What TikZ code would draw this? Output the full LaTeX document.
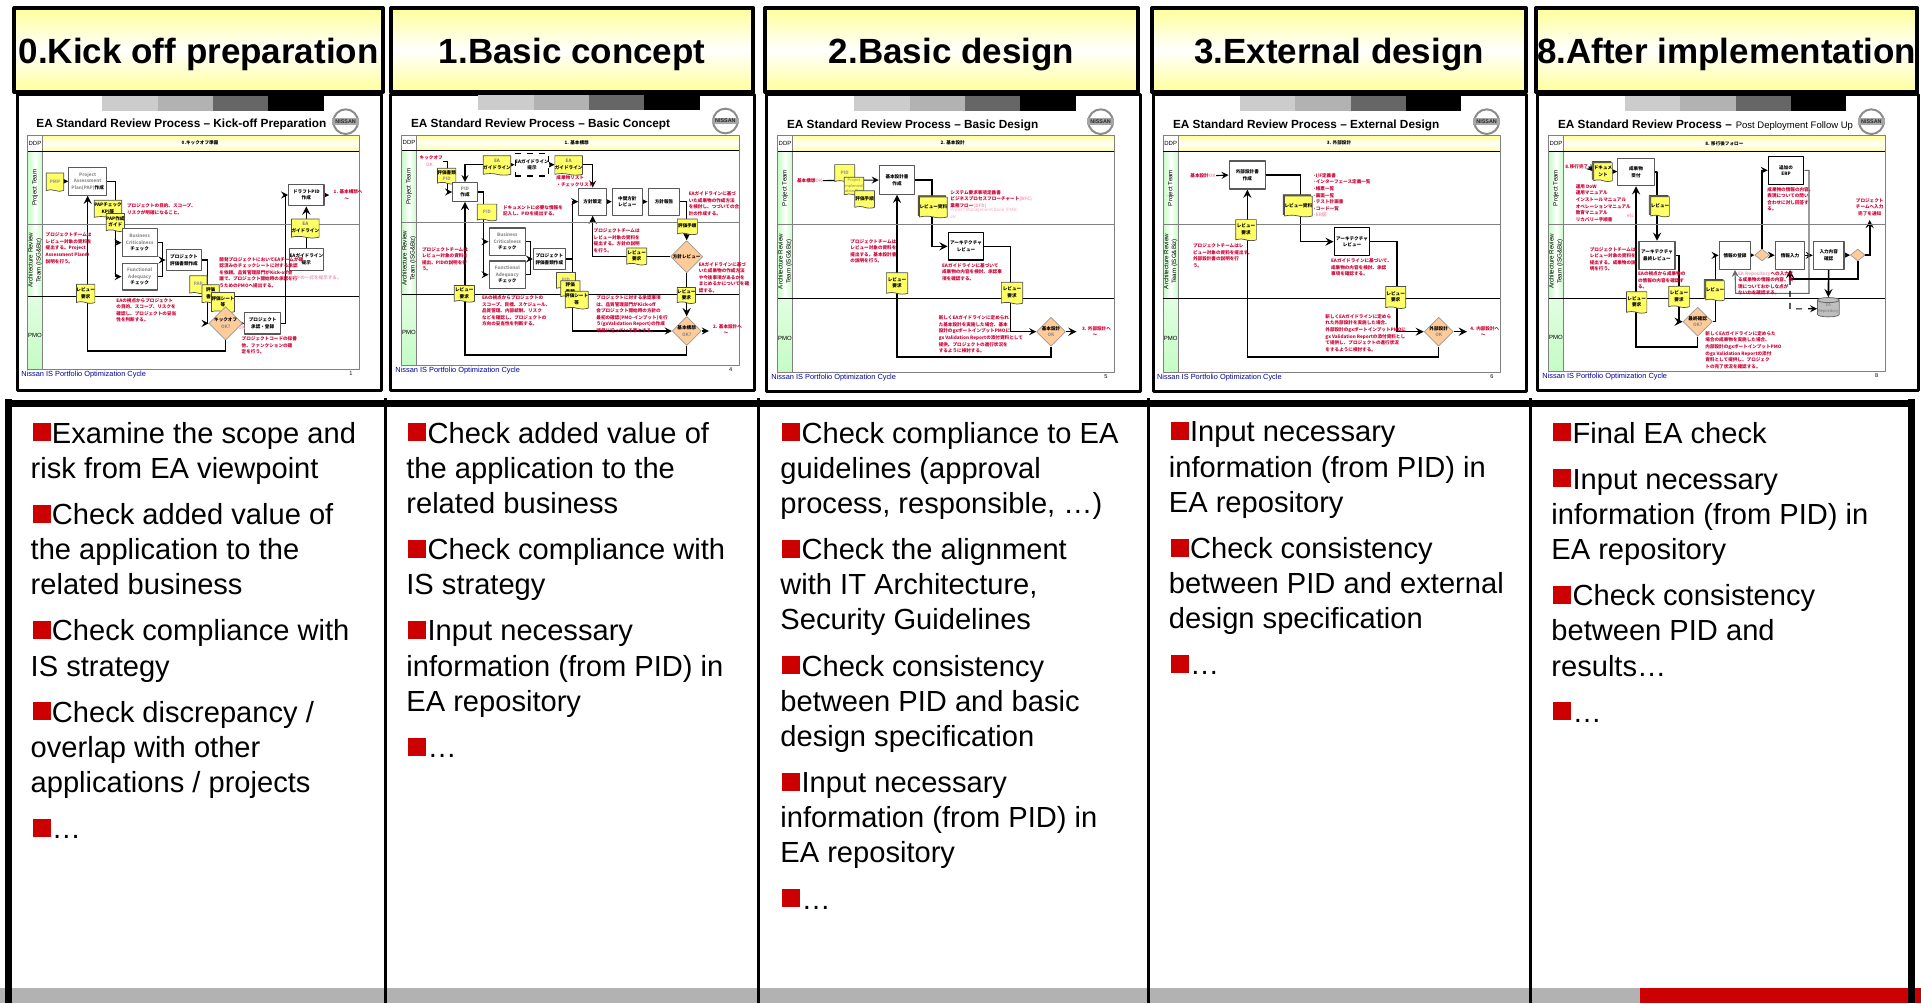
\documentclass[tikz,border=0pt]{standalone}
\usepackage{fontspec}
\setmainfont{Liberation Sans}
\newfontfamily\jpf{Noto Sans CJK JP}
\usetikzlibrary{shapes.geometric,shapes.symbols,shadows,backgrounds}
\definecolor{hdyellow}{HTML}{FFFF99}
\definecolor{lanegreen}{HTML}{C4FCC4}
\definecolor{bulletred}{HTML}{CC0000}
\definecolor{notered}{HTML}{CC0033}
\definecolor{notepink}{HTML}{F2A6BC}
\definecolor{docyellow}{HTML}{FFFF66}
\definecolor{diamfill}{HTML}{FFCC99}
\definecolor{footblue}{HTML}{000099}
\def\cu{0.16667pt}
\newcommand{\lblf}{\jpf\bfseries\fontsize{2.3}{3.3}\selectfont}
\newcommand{\ttlf}{\bfseries\fontsize{5.9}{7}\selectfont}
\newcommand{\sqb}{\kern1pt\textcolor{bulletred}{\raisebox{.85pt}{\rule{9pt}{9pt}}}\kern.6pt}
\tikzset{
	sz/.style 2 args={minimum width=#1*\cu,minimum height=#2*\cu},
	hdbox/.style={draw=black,line width=2pt,top color=hdyellow,bottom color=hdyellow,middle color=white,minimum height=42pt,inner sep=0pt,font=\bfseries\fontsize{17.5}{20}\selectfont,text height=13.5pt,text depth=0pt},
	bodytext/.style={anchor=north west,inner sep=0pt,align=left,font=\fontsize{14.55}{17.6}\selectfont},
	procbox/.style={draw=black!65,line width=.6pt,fill=white,inner sep=0pt,align=center,font=\lblf},
	palebox/.style={procbox,text=black!45},
	docnote/.style={shape=tape,tape bend top=none,tape bend bottom=out and in,tape bend height=.8pt,draw=black!70,line width=.35pt,fill=docyellow,sz={58}{52},inner sep=0pt,align=center,font=\lblf},
	stackdoc/.style={docnote,copy shadow={shadow xshift=-.7pt,shadow yshift=.7pt,fill=black!60!docyellow,draw=black!70}},
	decide/.style={diamond,draw=black!40,line width=.35pt,fill=diamfill,sz={85}{68},inner sep=0pt,align=center,font=\lblf},
	redline/.style={inner sep=0pt,anchor=north west,align=left,text=notered,font=\lblf},
	pinkline/.style={redline,text=notepink},
	flow/.style={->,line width=.55pt},
	heavy/.style={line width=.8pt},
	wire/.style={line width=.55pt},
}
% frame of one small slide: prefix, table x1 y1 x2 y2, lane lines, stripe start, page
\newcommand{\reviewbase}[9]{
	\fill[black!20] (#8,{#3-119}) rectangle ({#8+167},{#3-74});
	\fill[black!30] ({#8+167},{#3-119}) rectangle ({#8+333},{#3-74});
	\fill[black!60] ({#8+333},{#3-119}) rectangle ({#8+498},{#3-74});
	\fill[black] ({#8+498},{#3-119}) rectangle ({#8+665},{#3-74});
	\draw[black!45,line width=1pt,fill=white] ({#4-41},{#3-42}) circle (37);
	\fill[black!35] ({#4-81},{#3-52}) rectangle ({#4-1},{#3-32});
	\node[inner sep=0pt,text=black!85,font=\bfseries\fontsize{2.7}{3}\selectfont] (#1logo) at ({#4-41},{#3-42}) {NISSAN};
	\shade[top color=hdyellow,bottom color=hdyellow,middle color=white] ({#2+45},#3) rectangle (#4,{#3+47});
	\shade[left color=lanegreen,right color=lanegreen,middle color=white] (#2,{#3+47}) rectangle ({#2+45},#7);
	\shade[top color=lanegreen!50,bottom color=lanegreen] (#2,#7) rectangle ({#2+45},#5);
	\draw[black!50,line width=.5pt] (#2,#3) rectangle (#4,#5) ({#2+45},#3) -- ({#2+45},#5) (#2,#6) -- (#4,#6);
	\draw[black,line width=.35pt] (#2,{#3+47}) -- (#4,{#3+47}) (#2,#7) -- (#4,#7);
	\node[inner sep=0pt,font=\fontsize{3}{3.5}\selectfont] (#1ddp) at ({#2+22},{#3+23}) {DDP};
	\node[inner sep=0pt,rotate=90,font=\fontsize{3.1}{3.6}\selectfont] (#1lane) at ({#2+22},{(#3+47+#6)/2}) {Project Team};
	\node[inner sep=0pt,rotate=90,align=center,font=\fontsize{3.1}{3.9}\selectfont] (#1arch) at ({#2+22},{(#6+#7)/2}) {Architecture Review\\Team (ISG\&Biz)};
	\node[inner sep=0pt,font=\fontsize{3}{3.5}\selectfont] (#1pmo) at ({#2+22},{(#7+#5)/2+8}) {PMO};
	\node[inner sep=0pt,anchor=base west,text=footblue,font=\fontsize{3.7}{4}\selectfont] (#1foot) at ({#2-20},{#5+21}) {Nissan IS Portfolio Optimization Cycle};
	\node[inner sep=0pt,font=\fontsize{2.8}{3}\selectfont] (#1page) at ({#4-25},{#5+13}) {#9};
}
\begin{document}
\begin{tikzpicture}[x=0.5pt,y=-0.5pt,>=stealth,line join=round]
	\useasboundingbox (0,0) rectangle (1921,1003);
	% bottom bar and frame of the lists
	\fill[black!30] (0,988) rectangle (1640,1003);
	\fill[bulletred] (1640,988) rectangle (1921,1003);
	\fill (5,400) rectangle (1915,407);
	\fill (5,399) rectangle (12,1003);
	\fill (1908,399) rectangle (1915,1003);
	\foreach \sx in {384,757,1147,1529}{\fill (\sx,398) rectangle (\sx+3.3,1003);}
	% titles of the phases
	\draw[line width=1.5pt] (17,94.5) rectangle (381,390) (390.5,94.5) rectangle (754.5,390) (766.5,94.5) rectangle (1140.5,391) (1153,94.5) rectangle (1526.5,391) (1537.5,94.5) rectangle (1918,390);
	\node[hdbox,minimum width=184.25pt] (hd0) at (198.7,50) {0.Kick off preparation};
	\node[hdbox,minimum width=181.25pt] (hd1) at (572.2,50) {1.Basic concept};
	\node[hdbox,minimum width=186.5pt] (hd2) at (951.5,50) {2.Basic design};
	\node[hdbox,minimum width=187pt] (hd3) at (1339,50) {3.External design};
	\node[hdbox,minimum width=190.75pt] (hd4) at (1726.7,50) {8.After implementation};
	% lists
	\node[bodytext] (body0) at (30.3,421.5) {\sqb Examine the scope and\\risk from EA viewpoint\\[5.45pt]\sqb Check added value of\\the application to the\\related business\\[5.45pt]\sqb Check compliance with\\IS strategy\\[5.45pt]\sqb Check discrepancy /\\overlap with other\\applications / projects\\[5.45pt]\sqb …};
	\node[bodytext] (body1) at (406,421.5) {\sqb Check added value of\\the application to the\\related business\\[5.45pt]\sqb Check compliance with\\IS strategy\\[5.45pt]\sqb Input necessary\\information (from PID) in\\EA repository\\[5.45pt]\sqb …};
	\node[bodytext] (body2) at (780,421.5) {\sqb Check compliance to EA\\guidelines (approval\\process, responsible, …)\\[5.45pt]\sqb Check the alignment\\with IT Architecture,\\Security Guidelines\\[5.45pt]\sqb Check consistency\\between PID and basic\\design specification\\[5.45pt]\sqb Input necessary\\information (from PID) in\\EA repository\\[5.45pt]\sqb …};
	\node[bodytext] (body3) at (1168.5,421.5) {\sqb Input necessary\\information (from PID) in\\EA repository\\[5.45pt]\sqb Check consistency\\between PID and external\\design specification\\[5.45pt]\sqb …};
	\node[bodytext] (body4) at (1551,421.5) {\sqb Final EA check\\[5.45pt]\sqb Input necessary\\information (from PID) in\\EA repository\\[5.45pt]\sqb Check consistency\\between PID and\\results…\\[5.45pt]\sqb …};
	% slide 0
	\begin{scope}[shift={(0,0)},x=\cu,y=-\cu]
	\reviewbase{s0}{83}{407}{1078}{1108}{672}{889}{307}{1}
	\node[inner sep=0pt,anchor=base west,font=\ttlf] (s0t) at (108,383) {EA Standard Review Process – Kick-off Preparation};
	\node[inner sep=0pt,font=\lblf] (s0h1) at (600,428) {0.キックオフ準備};
	\node[docnote,text=black!40,sz={52}{55}] (s0d1) at (165,544) {PMP};
	\node[palebox,sz={113}{83}] (s0a) at (263,544) {Project\\Assessment\\Plan(PAP)\textcolor{black}{作成}};
	\node[docnote,sz={52}{54}] (s0d2) at (324,625) {PAPチェック\\KPI等};
	\node[docnote,sz={52}{54}] (s0d3) at (346,665) {PAP作成\\ガイド};
	\node[palebox,sz={105}{84}] (s0b) at (419,728) {Business\\Criticalness\\\textcolor{black}{チェック}};
	\node[palebox,sz={105}{80}] (s0c) at (419,830) {Functional\\Adequacy\\\textcolor{black}{チェック}};
	\node[procbox,sz={107}{63}] (s0d) at (552,780) {プロジェクト\\評価書類作成};
	\node[docnote,text=black!40,sz={52}{55}] (s0d4) at (595,852) {PAP};
	\node[docnote,sz={52}{56}] (s0d5) at (632,880) {評価\\書類};
	\node[docnote,sz={52}{60}] (s0d6) at (669,905) {評価シート\\等};
	\node[docnote,sz={52}{57}] (s0d7) at (257,879) {レビュー\\要求};
	\node[decide,sz={81}{66}] (s0e) at (677,970) {キックオフ\\\textcolor{black!45}{OK?}};
	\node[procbox,sz={107}{64}] (s0f) at (788,970) {プロジェクト\\承認・登録};
	\node[procbox,sz={106}{65}] (s0g) at (919,585) {ドラフトPID\\作成};
	\node[docnote,sz={62}{57}] (s0d8) at (916,683) {\textcolor{black!50}{EA}\\ガイドライン};
	\node[procbox,sz={93}{67}] (s0i) at (919,778) {EAガイドライン\\提示};
	\node[redline] (s0n1) at (380,610) {プロジェクトの目的、スコープ、\\リスクが明確になること。};
	\node[redline] (s0n2) at (136,697) {プロジェクトチームは\\レビュー対象の資料を\\提出する。Project\\Assessment Planの\\説明を行う。};
	\node[redline] (s0n3) at (657,770) {開発プロジェクトにおいてEAチームが確\\認済みのチェックシートに対する承認\\を依頼。品質管理部門がKick-off会\\議で、プロジェクト開始時の承認を行\\うためのPMOへ提出する。};
	\node[redline] (s0n4) at (348,893) {EAの視点からプロジェクト\\の目的、スコープ、リスクを\\確認し、プロジェクトの妥当\\性を判断する。};
	\node[redline] (s0n5) at (724,1008) {プロジェクトコードの採番\\他、ファンクションの確\\定を行う。};
	\node[pinkline] (s0n6) at (870,826) {DDPの一式を提示する。};
	\node[redline,font=\lblf] (s0n7) at (1000,568) {1. 基本構想へ\\\ \ ~~~~~~~~〜};
	\node[pinkline,font=\lblf] (s0ok) at (714,977) {OK};
	\begin{scope}[on background layer]
	\draw[flow] (s0d1) -- (s0a);
	\draw[flow] (s0a.east) -- ++(24,0) |- (s0b.west);
	\draw[flow] (s0a.east) -- ++(24,0) |- (s0c.west);
	\draw[wire] (s0b.east) -- ++(14,0) |- (s0c.east);
	\draw[flow] (s0b.east) -- ++(14,0) |- (s0d.west);
	\draw[flow] (s0d.east) -- ++(14,0) |- (s0e.west);
	\draw[flow] (s0e) -- (s0f);
	\draw[flow,heavy] (s0e.south) -- ++(0,32) -| (s0a.south);
	\draw[flow] (s0f.east) -- ++(13,0) |- (s0g.west);
	\draw[flow] (s0g.east) -- ++(14,0);
	\draw[flow,heavy] (s0i) -- (s0g);
	\end{scope}
	\end{scope}
	% slide 1
	\begin{scope}[shift={(380,80)},x=\cu,y=-\cu]
	\reviewbase{s1}{65}{165}{1077}{857}{427}{642}{295}{4}
	\node[inner sep=0pt,anchor=base west,font=\ttlf] (s1t) at (92,142) {EA Standard Review Process – Basic Concept};
	\node[inner sep=0pt,font=\lblf] (s1h1) at (590,187) {1. 基本構想};
	\node[redline] (s1n0) at (118,227) {キックオフ\\\textcolor{notepink}{\ \ ~~~~OK}};
	\node[docnote,sz={54}{47}] (s1d1) at (200,286) {評価書類\\\textcolor{black!40}{PID}};
	\node[procbox,sz={74}{56}] (s1a) at (255,336) {\textcolor{black!45}{PID}\\作成};
	\node[docnote,sz={63}{58}] (s1d2) at (351,254) {\textcolor{black!50}{EA}\\ガイドライン};
	\node[procbox,dashed,draw=black,line width=.7pt,sz={97}{68}] (s1b) at (456,254) {EAガイドライン\\提示};
	\node[docnote,sz={64}{58}] (s1d3) at (566,254) {\textcolor{black!50}{EA}\\ガイドライン};
	\node[redline] (s1n1) at (528,286) {成果物リスト\\・チェックリスト};
	\node[docnote,text=black!40,sz={58}{50}] (s1d4) at (321,395) {PID};
	\node[redline] (s1n2) at (368,375) {ドキュメントに必要な情報を\\記入し、PIDを提出する。};
	\node[procbox,sz={83}{81}] (s1c) at (638,365) {方針策定};
	\node[procbox,sz={90}{81}] (s1e) at (742,365) {中間方針\\レビュー};
	\node[procbox,sz={95}{81}] (s1f) at (852,365) {方針報告};
	\node[redline] (s1n3) at (925,334) {EAガイドラインに基づ\\いた成果物の作成方法\\を検討し、つづいての合\\計の作成する。};
	\node[docnote,sz={60}{47}] (s1d5) at (922,438) {評価手順};
	\node[decide] (s1g) at (920,530) {方針レビュー};
	\node[docnote,sz={60}{51}] (s1d6) at (770,527) {レビュー\\要求};
	\node[redline] (s1n4) at (640,445) {プロジェクトチームは\\レビュー対象の資料を\\提出する。方針の説明\\を行う。};
	\node[redline] (s1n5) at (125,500) {プロジェクトチームは\\レビュー対象の資料を\\提出、PIDの説明を行\\う。};
	\node[palebox,sz={109}{82}] (s1h) at (382,485) {Business\\Criticalness\\\textcolor{black}{チェック}};
	\node[palebox,sz={109}{82}] (s1i) at (382,584) {Functional\\Adequacy\\\textcolor{black}{チェック}};
	\node[procbox,sz={95}{62}] (s1j) at (508,537) {プロジェクト\\評価書類作成};
	\node[docnote,text=black!40,sz={57}{50}] (s1d7) at (558,600) {PID};
	\node[docnote,sz={58}{50}] (s1d8) at (571,625) {評価\\書類};
	\node[docnote,sz={58}{53}] (s1d9) at (590,658) {評価シート\\等};
	\node[docnote,sz={61}{50}] (s1d10) at (253,639) {レビュー\\要求};
	\node[redline] (s1n6) at (305,645) {EAの視点からプロジェクトの\\スコープ、目標、スケジュール、\\品質管理、内部統制、リスク\\などを確認し、プロジェクトの\\方向の妥当性を判断する。};
	\node[redline] (s1n7) at (648,645) {プロジェクトに対する承認事項\\は、品質管理部門がKick-off\\会プロジェクト開始時の方針の\\最初の確認(PMO-インプット)を行\\う(gxValidation Report)の作成\\項目に沿っている事とする。};
	\node[docnote,sz={52}{48}] (s1d11) at (919,644) {レビュー\\要求};
	\node[redline] (s1n8) at (955,545) {EAガイドラインに基づ\\いた成果物の作成方法\\や今後事項があるかを\\まとめるかについてを確\\認する。};
	\node[decide,sz={85}{66}] (s1k) at (920,753) {基本構想\\\textcolor{black!45}{OK?}};
	\node[redline] (s1n9) at (998,732) {2. 基本設計へ\\\ \ ~~~~~~~~〜};
	\begin{scope}[on background layer]
	\draw[flow] (s1n0.east) -- ++(12,0) |- (s1a.west);
	\draw[flow] (s1d2.west) -| (s1a.north);
	\draw[flow] (s1d2) -- (s1b);
	\draw[flow] (s1b) -- (s1d3);
	\draw[flow] (s1d3.east) -| (s1c.north);
	\draw[flow] (s1a.east) -- ++(18,0) |- (s1h.west);
	\draw[flow] (s1a.east) -- ++(18,0) |- (s1i.west);
	\draw[wire] (s1h.east) -- ++(13,0) |- (s1i.east);
	\draw[flow] (s1h.east) -- ++(13,0) |- (s1j.west);
	\draw[flow] (s1j.east) -- ++(19,0) |- (s1c.west);
	\draw[flow] (s1j.east) -- ++(19,0) |- (s1k.west);
	\draw[flow] (s1c) -- (s1e);
	\draw[flow] (s1e) -- (s1f);
	\draw[flow,heavy] (s1f.east) -- ++(20,0) -| (s1g.north);
	\draw[flow,heavy] (s1g.west) -| (s1c.south);
	\draw[flow,heavy] (s1g) -- (s1k);
	\draw[flow] (s1k.east) -- ++(22,0);
	\draw[flow,heavy] (s1k.south) -- ++(0,28) -| (s1a.south);
	\end{scope}
	\end{scope}
	% slide 2
	\begin{scope}[shift={(760,80)},x=\cu,y=-\cu]
	\reviewbase{s2}{53}{167}{1063}{877}{434}{655}{282}{5}
	\node[inner sep=0pt,anchor=base west,font=\ttlf] (s2t) at (80,145) {EA Standard Review Process – Basic Design};
	\node[inner sep=0pt,font=\lblf] (s2h1) at (578,189) {2. 基本設計};
	\node[redline] (s2n0) at (110,294) {基本構想\textcolor{notepink}{OK}};
	\node[docnote,text=black!40,sz={60}{53}] (s2d1) at (254,278) {PID};
	\node[docnote,text=black!50,sz={58}{55},font=\jpf\fontsize{1.9}{2.7}\selectfont] (s2d2) at (282,317) {Project\\Implement\\ation Plan};
	\node[docnote,sz={59}{52}] (s2d3) at (314,356) {評価手順};
	\node[procbox,sz={106}{85}] (s2a) at (411,300) {基本設計書\\作成};
	\node[stackdoc,sz={60}{62}] (s2d4) at (520,380) {レビュー資料};
	\node[redline] (s2n1) at (570,330) {システム要求事項定義書\\ビジネスプロセスフローチャート\textcolor{notepink}{(BFC)}\\業務フロー\textcolor{notepink}{(DFD)}};
	\node[pinkline,font=\jpf\fontsize{2.2}{3.3}\selectfont] (s2n2) at (570,383) {Project Management Book (PMB)\\etc};
	\node[procbox,draw=black,sz={107}{82}] (s2b) at (618,499) {アーキテクチャ\\レビュー};
	\node[redline] (s2n3) at (545,548) {EAガイドラインに基づいて\\成果物の内容を検討、承認事\\項を確認する。};
	\node[docnote,sz={64}{64}] (s2d5) at (411,608) {レビュー\\要求};
	\node[redline] (s2n4) at (270,476) {プロジェクトチームは\\レビュー対象の資料を\\提出する。基本設計書\\の説明を行う。};
	\node[docnote,sz={64}{65}] (s2d6) at (756,637) {レビュー\\要求};
	\node[decide,sz={85}{70}] (s2c) at (873,755) {基本設計\\\textcolor{black!45}{OK}};
	\node[redline] (s2n5) at (535,706) {新しくEAガイドラインに定められ\\た基本設計を実施した場合、基本\\設計のgxポートインプットPMOに\\gx Validation Reportの添付資料として\\提供。プロジェクトの進行状況を\\するように検討する。};
	\node[redline] (s2n6) at (965,738) {3. 外部設計へ\\\ \ ~~~~~~~~〜};
	\begin{scope}[on background layer]
	\draw[flow] (s2n0.east) -- (s2a.west);
	\draw[flow,heavy] (s2a.east) -- ++(51,0) |- (s2b.west);
	\draw[flow] (s2b.east) -- ++(78,0) |- (s2c.west);
	\draw[flow,heavy] (s2c.east) -- ++(32,0);
	\draw[flow,heavy] (s2c.south) -- ++(0,32) -| (s2a.south);
	\end{scope}
	\end{scope}
	% slide 3
	\begin{scope}[shift={(1140,80)},x=\cu,y=-\cu]
	\reviewbase{s3}{70}{167}{1081}{877}{434}{655}{299}{6}
	\node[inner sep=0pt,anchor=base west,font=\ttlf] (s3t) at (98,145) {EA Standard Review Process – External Design};
	\node[inner sep=0pt,font=\lblf] (s3h1) at (597,189) {3. 外部設計};
	\node[redline] (s3n0) at (150,279) {基本設計\textcolor{notepink}{OK}};
	\node[procbox,sz={109}{84}] (s3a) at (322,285) {外部設計書\\作成};
	\node[stackdoc,sz={60}{62}] (s3d1) at (475,377) {レビュー資料};
	\node[redline] (s3n1) at (518,279) {·I/F定義書\\·インターフェース定義一覧\\·帳票一覧\\·画面一覧\\·テスト計画書\\·コード一覧\\\textcolor{notepink}{·ER図}};
	\node[procbox,draw=black,sz={107}{84}] (s3b) at (636,485) {アーキテクチャ\\レビュー};
	\node[redline] (s3n2) at (572,535) {EAガイドラインに基づいて、\\成果物の内容を検討、承認\\事項を確認する。};
	\node[docnote,sz={62}{63}] (s3d2) at (318,448) {レビュー\\要求};
	\node[redline] (s3n3) at (158,490) {プロジェクトチームはレ\\ビュー対象の資料を提出す。\\外部設計書の説明を行\\う。};
	\node[docnote,sz={60}{66}] (s3d3) at (767,650) {レビュー\\要求};
	\node[decide,sz={85}{70}] (s3c) at (896,755) {外部設計\\\textcolor{black!45}{OK}};
	\node[redline] (s3n4) at (555,702) {新しくEAガイドラインに定めら\\れた外部設計を実施した場合、\\外部設計のgxポートインプットPMOに\\gx Validation Reportの添付資料とし\\て提供し、プロジェクトの進行状況\\をするように検討する。};
	\node[redline] (s3n5) at (990,738) {4. 内部設計へ\\\ \ ~~~~~~~~〜};
	\begin{scope}[on background layer]
	\draw[flow] (s3n0.east) -- (s3a.west);
	\draw[flow,heavy] (s3a.east) -- ++(103,0) |- (s3b.west);
	\draw[flow,heavy] (s3b.east) -- ++(80,0) |- (s3c.west);
	\draw[flow,heavy] (s3c.east) -- ++(40,0);
	\draw[flow,heavy] (s3c.south) -- ++(0,32) -| (s3a.south);
	\end{scope}
	\end{scope}
	% slide 4
	\begin{scope}[shift={(1521,80)},x=\cu,y=-\cu]
	\reviewbase{s4}{83}{167}{1092}{873}{434}{654}{311}{8}
	\node[inner sep=0pt,anchor=base west,font=\ttlf] (s4t) at (110,145) {EA Standard Review Process –};
	\node[inner sep=0pt,anchor=base west,font=\fontsize{4.75}{5}\selectfont] (s4t2) at (643,145) {Post Deployment Follow Up};
	\node[inner sep=0pt,font=\lblf] (s4h1) at (610,190) {8. 移行後フォロー};
	\node[redline] (s4n0) at (132,252) {8.移行完了};
	\node[stackdoc,sz={56}{56}] (s4d1) at (246,274) {ドキュメ\\ント};
	\node[procbox,sz={109}{82}] (s4a) at (345,276) {成果物\\受付};
	\node[stackdoc,sz={56}{60}] (s4d2) at (417,378) {レビュー};
	\node[redline] (s4n1) at (163,312) {運用 DoW\\運用マニュアル\\インストールマニュアル\\オペレーションマニュアル\\教育マニュアル\\リカバリー手順書};
	\node[pinkline] (s4n2) at (316,401) {etc};
	\node[procbox,sz={108}{84}] (s4b) at (408,526) {アーキテクチャ\\最終レビュー};
	\node[redline] (s4n3) at (205,500) {プロジェクトチームは\\レビュー対象の資料を\\提出する。成果物の説\\明を行う。};
	\node[redline] (s4n4) at (350,574) {EAの視点から成果物の\\の情報の内容を確認す\\る。};
	\node[docnote,sz={61}{64}] (s4d3) at (347,665) {レビュー\\要求};
	\node[docnote,sz={62}{64}] (s4d4) at (474,648) {レビュー\\要求};
	\node[stackdoc,sz={56}{60}] (s4d5) at (582,630) {レビュー};
	\node[decide,sz={88}{72}] (s4c) at (530,725) {最終確認\\\textcolor{black!45}{OK?}};
	\node[redline] (s4n5) at (552,753) {新しくEAガイドラインに定めらた\\場合の成果物を実施した場合、\\内部設計のgxポートインプットPMO\\のgx Validation Reportの添付\\資料として提供し、プロジェク\\トの完了状況を確認する。};
	\node[procbox,sz={95}{84}] (s4e) at (642,526) {情報の登録};
	\node[decide,sz={44}{36}] (s4f) at (723,525) {};
	\node[procbox,sz={88}{84}] (s4g) at (807,526) {情報入力};
	\node[procbox,sz={92}{84}] (s4h) at (923,526) {入力内容\\確認};
	\node[decide,sz={44}{36}] (s4i) at (1010,525) {};
	\node[procbox,draw=black,sz={106}{84}] (s4j) at (795,271) {追加の\\ERP};
	\node[redline] (s4n6) at (738,320) {成果物の情報の内容、\\表現についての問い\\合わせに対し回答す\\る。};
	\node[redline,align=center,anchor=north] (s4n7) at (1046,354) {プロジェクト\\チームへ入力\\完了を通知};
	\coordinate (s4up) at (1046,420);
	\node[redline] (s4n8) at (650,572) {\textcolor{notepink}{EA Repository}への入力す\\る成果物の情報の内容、表\\現についておかしな点が\\ないかを確認する。};
	\node[shape=cylinder,shape border rotate=90,aspect=.25,draw=black!60,line width=.4pt,fill=black!25,sz={65}{58},inner sep=0pt,align=center,text=black!55,font=\jpf\fontsize{2}{3}\selectfont] (s4k) at (922,686) {EA\\Repository};
	\begin{scope}[on background layer]
	\draw[flow] (s4n0.east) -- (s4d1.west);
	\draw[flow] (s4d1) -- (s4a);
	\draw[flow,heavy] (s4a.east) -- ++(8,0) -| (s4b.north);
	\draw[flow,heavy] (s4b.east) -- ++(11,0) |- (s4c.west);
	\draw[flow] (s4c.east) -- ++(9,0) |- (s4e.west);
	\draw[flow,heavy] (s4c.south) -- ++(0,32) -| (s4a.south);
	\draw[flow] (s4e) -- (s4f);
	\draw[flow] (s4f) -- (s4g);
	\draw[flow] (s4f.north) |- (s4j.west);
	\draw[flow] (s4g) -- (s4h);
	\draw[flow] (s4h) -- (s4i);
	\draw[flow,heavy] (s4i.east) -| (s4up);
	\draw[flow,black!60] (s4j.east) -- ++(14,0) |- ++(-220,369) -- (s4e.south);
	\draw[flow,heavy] (s4i.south) |- ++(-203,52) -- (s4g.south);
	\draw[flow,heavy] (s4h.south) -- (s4k.north);
	\draw[flow,dashed] (s4g.south) ++(0,27) -- ++(0,90) -- (s4k.west);
	\end{scope}
	\end{scope}
\end{tikzpicture}
\end{document}
